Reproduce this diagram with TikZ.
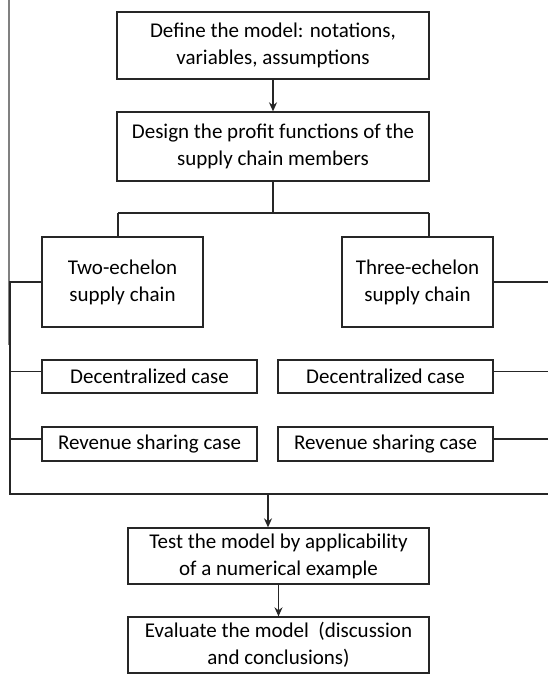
\documentclass[tikz,border=0pt]{standalone}
\usepackage{fontspec}
\setmainfont{Carlito}
\usetikzlibrary{arrows.meta}
\begin{document}
\begin{tikzpicture}[x=1pt,y=-1pt,line width=1.3pt,color=black!85,
  box/.style={draw,rectangle,align=center,inner sep=0pt,text=black,
    font=\fontsize{21}{27}\selectfont},
  arr/.style={-{Stealth[length=9pt,width=8pt]}}]
\useasboundingbox (0,0) rectangle (548,674);
\node[box,minimum width=312,minimum height=67] (b1) at (273,45.5) {Define the model: notations,\\variables, assumptions};
\node[box,minimum width=312,minimum height=69] (b2) at (273,146.5) {Design the profit functions of the\\supply chain members};
\node[box,minimum width=161,minimum height=90] (two) at (122.5,282) {Two-echelon\\supply chain};
\node[box,minimum width=151,minimum height=90] (three) at (417.5,282) {Three-echelon\\supply chain};
\node[box,minimum width=215,minimum height=33] (dl) at (149.5,376.5) {Decentralized case};
\node[box,minimum width=215,minimum height=33] (dr) at (385.5,376.5) {Decentralized case};
\node[box,minimum width=215,minimum height=34] (rl) at (149.5,444) {Revenue sharing case};
\node[box,minimum width=215,minimum height=34] (rr) at (385.5,444) {Revenue sharing case};
\node[box,minimum width=301,minimum height=56] (test) at (278.5,556) {Test the model by applicability\\of a numerical example};
\node[box,minimum width=301,minimum height=56] (eval) at (278.5,645) {Evaluate the model~ (discussion\\and conclusions)};
\coordinate (fl) at (118,213);
\coordinate (fr) at (429,213);
\coordinate (st) at (10,281);
\coordinate (sb) at (10,494);
\coordinate (re) at (548,494);
\coordinate (ta) at (268,494);
\coordinate (gt) at (9,0);
\coordinate (gb) at (9,345);
\draw[arr] (b1.south) -- (b2.north);
\draw (b2.south) -- (b2.south |- fl);
\draw (fl) -- (fr);
\draw (fl) -- (fl |- two.north);
\draw (fr) -- (fr |- three.north);
\draw[draw=gray,line width=1.1pt] (gt) -- (gb);
\draw (st) -- (sb) -- (re);
\draw (two.west) -- (two.west -| st);
\draw ([yshift=5pt]dl.west) -- ([yshift=5pt]dl.west -| st);
\draw ([yshift=5pt]rl.west) -- ([yshift=5pt]rl.west -| st);
\draw (three.east) -- (three.east -| re);
\draw ([yshift=5pt]dr.east) -- ([yshift=5pt]dr.east -| re);
\draw ([yshift=5pt]rr.east) -- ([yshift=5pt]rr.east -| re);
\draw[arr] (ta) -- (ta |- test.north);
\draw[arr] (test.south) -- (eval.north);
\end{tikzpicture}
\end{document}
